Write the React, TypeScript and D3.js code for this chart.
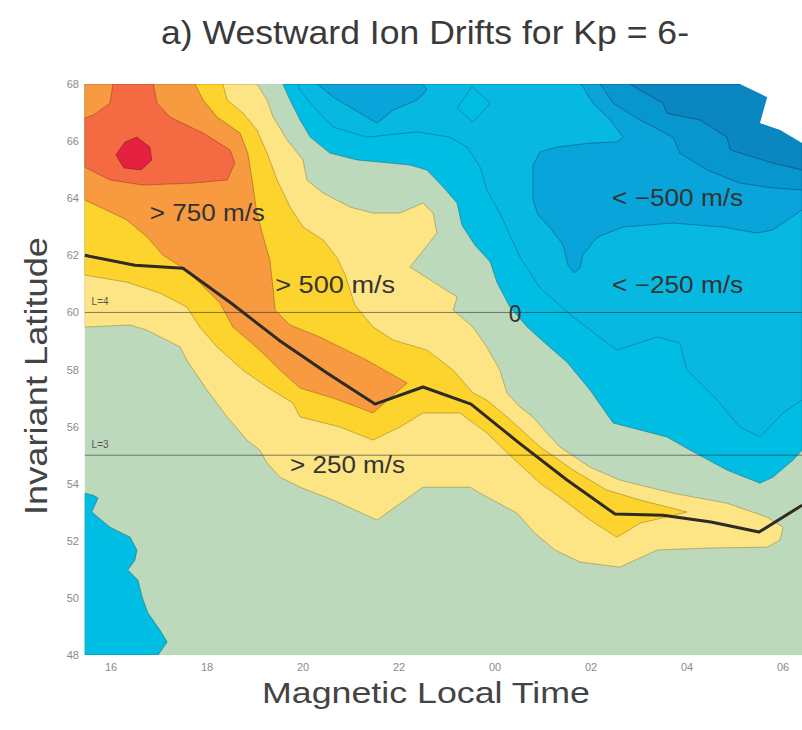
import { useEffect, useRef } from 'react';
import * as d3 from 'd3';

type Pt = [number, number]; // [MLT in hours (00 = 24, 02 = 26 ...), invariant latitude]

const mltTicks = [16, 18, 20, 22, 24, 26, 28, 30];
const latTicks = [48, 50, 52, 54, 56, 58, 60, 62, 64, 66, 68];

// westward drift contours
const above250: Pt[] = [
  [15.45, 68], [19.04, 68], [19.25, 67.44], [19.38, 66.84], [19.67, 66.04], [20.0, 65.34],
  [20.08, 64.64], [20.42, 64.18], [20.98, 63.69], [21.46, 63.48], [22.02, 63.48], [22.5, 63.83],
  [22.71, 63.48], [22.79, 62.78], [22.23, 61.59], [23.21, 60.54], [23.13, 60.08], [23.54, 59.49],
  [23.83, 58.79], [24.1, 57.98], [24.25, 57.18], [24.52, 56.69], [24.79, 56.34], [25.08, 55.78],
  [25.35, 55.29], [25.98, 54.58], [26.6, 54.13], [27.71, 53.67], [28.83, 53.32], [29.67, 52.83],
  [30.0, 52.48], [29.94, 52.03], [29.67, 51.78], [28.42, 51.75], [27.38, 51.68], [26.6, 51.08],
  [25.77, 51.26], [25.25, 51.68], [24.83, 52.27], [24.46, 52.97], [23.69, 53.67], [23.48, 53.88],
  [22.5, 53.88], [21.54, 52.73], [20.63, 53.43], [19.94, 53.88], [19.52, 54.23], [19.25, 54.73],
  [19.1, 55.18], [18.83, 55.53], [18.42, 56.34], [18.0, 57.28], [17.58, 58.33], [17.44, 58.79],
  [16.75, 59.38], [16.4, 59.56], [15.45, 59.49],
];

const above500: Pt[] = [
  [15.45, 68], [18.33, 68], [18.42, 67.44], [18.75, 66.98], [19.04, 66.39], [19.25, 65.58],
  [19.46, 64.64], [19.73, 63.69], [20.0, 62.99], [20.42, 62.54], [20.71, 61.91], [20.88, 61.31],
  [21.08, 60.26], [21.46, 59.49], [21.88, 59.03], [22.58, 58.68], [23.13, 57.98], [23.54, 57.18],
  [23.83, 56.93], [24.25, 56.34], [24.94, 55.29], [25.63, 54.48], [26.33, 53.78], [27.02, 53.43],
  [28.0, 53.01], [27.02, 52.62], [26.54, 52.13], [25.98, 52.73], [25.35, 53.53], [24.94, 54.02],
  [24.31, 55.0], [23.83, 55.78], [23.27, 56.48], [22.5, 56.48], [22.02, 55.99], [21.46, 55.53],
  [20.77, 55.99], [19.94, 56.34], [19.79, 56.83], [19.25, 57.39], [18.75, 57.98], [18.21, 58.79],
  [17.85, 59.49], [17.58, 60.19], [17.02, 60.68], [16.33, 61.06], [15.45, 61.31],
];

const above750: Pt[] = [
  [15.45, 68], [17.75, 68], [17.92, 67.44], [18.21, 66.84], [18.69, 66.28], [18.85, 65.58],
  [18.94, 64.64], [19.04, 63.48], [19.15, 62.78], [19.31, 61.84], [19.38, 60.78], [19.42, 60.08],
  [19.73, 59.56], [20.35, 59.14], [21.33, 58.33], [22.17, 57.53], [21.46, 56.48], [20.63, 57.0],
  [19.94, 57.35], [19.52, 57.98], [19.1, 58.68], [18.54, 59.49], [18.27, 60.33], [17.85, 61.03],
  [17.5, 61.56], [17.08, 62.01], [16.75, 62.64], [16.33, 63.24], [15.77, 63.69], [15.45, 63.94],
];

const above1000: Pt[] = [
  [16.04, 68], [15.98, 67.33], [15.63, 66.91], [15.45, 66.81], [15.45, 65.09], [15.98, 64.64],
  [16.67, 64.46], [17.71, 64.53], [18.42, 64.64], [18.58, 65.23], [18.48, 65.69], [17.92, 66.28],
  [17.23, 66.84], [16.96, 67.33], [16.88, 68],
];

const above1250: Pt[] = [
  [16.29, 65.97], [16.54, 66.14], [16.81, 65.79], [16.85, 65.34], [16.63, 64.99], [16.27, 65.06],
  [16.1, 65.51],
];

const below0: Pt[] = [
  [19.58, 68], [19.73, 67.44], [19.94, 66.74], [20.15, 66.14], [20.56, 65.58], [21.13, 65.34],
  [21.81, 65.23], [22.23, 65.16], [22.58, 64.99], [22.92, 64.39], [23.21, 63.83], [23.31, 63.06],
  [23.58, 62.36], [23.9, 61.77], [24.04, 61.06], [24.31, 60.19], [24.67, 59.49], [25.04, 58.93],
  [25.5, 58.26], [25.98, 57.28], [26.46, 56.13], [27.58, 55.64], [28.06, 55.18], [28.83, 54.48],
  [29.52, 54.02], [29.79, 54.23], [30.21, 54.83], [30.4, 55.18], [30.4, 68],
];

const below0Dusk: Pt[] = [
  [15.45, 53.67], [15.63, 53.6], [15.73, 53.5], [15.6, 53.01], [15.98, 52.48], [16.4, 52.13],
  [16.54, 51.68], [16.5, 51.33], [16.35, 50.98], [16.56, 50.63], [16.65, 50.03], [16.77, 49.47],
  [17.02, 48.88], [17.17, 48.46], [16.98, 48], [15.45, 48],
];

const below250: Pt[] = [
  [19.9, 68], [19.94, 67.79], [20.15, 67.33], [20.63, 66.49], [21.33, 66.14], [22.38, 66.32],
  [23.06, 66.14], [23.42, 65.79], [23.69, 65.09], [23.83, 64.29], [24.1, 63.48], [24.52, 61.94],
  [24.94, 60.85], [25.63, 59.84], [26.54, 58.68], [27.38, 59.14], [27.85, 58.93], [28.0, 57.98],
  [28.63, 56.93], [29.1, 55.99], [29.52, 55.64], [30.0, 56.48], [30.4, 56.93], [30.4, 68],
];

const below250Hole: Pt[] = [
  [23.52, 67.9], [23.9, 67.33], [23.54, 66.67], [23.21, 67.16],
];

const below500Pre: Pt[] = [
  [20.29, 68], [20.63, 67.54], [21.33, 66.84], [21.54, 66.63], [21.88, 67.09], [22.38, 67.44],
  [22.58, 67.79], [22.5, 68],
];

const below500Post: Pt[] = [
  [25.77, 68], [25.83, 67.9], [26.04, 67.33], [26.4, 66.74], [26.67, 66.14], [26.54, 65.97],
  [25.98, 65.93], [25.29, 65.79], [24.94, 65.62], [24.79, 65.16], [24.79, 63.94], [24.9, 63.41],
  [25.15, 62.96], [25.42, 62.36], [25.52, 61.66], [25.65, 61.38], [25.77, 61.56], [25.83, 62.01],
  [26.13, 62.64], [26.67, 62.99], [27.71, 63.13], [28.75, 62.99], [29.46, 62.78], [29.79, 62.89],
  [30.4, 63.59], [30.4, 68],
];

const below750: Pt[] = [
  [26.19, 68], [26.46, 67.33], [27.02, 66.74], [27.71, 66.14], [27.85, 65.58], [28.42, 64.99],
  [29.1, 64.53], [29.79, 64.36], [30.4, 64.29], [30.4, 68],
];

const below1000: Pt[] = [
  [26.81, 68], [27.02, 67.79], [27.5, 67.33], [27.58, 66.98], [28.27, 66.74], [28.83, 66.14],
  [28.9, 65.69], [29.79, 65.23], [30.4, 64.99], [30.4, 68],
];

const noData: Pt[] = [
  [29.1, 68], [29.67, 67.54], [29.52, 66.63], [29.94, 66.39], [30.4, 65.93], [30.4, 68],
];

// dark curve through the peak flows
const peakMlt = [15.45, 16.5, 17.5, 18.5, 19.5, 20.5, 21.5, 22.5, 23.5, 24.5, 25.5, 26.5, 27.5, 28.5, 29.5, 30.4];
const peakLat = [62.0, 61.65, 61.55, 60.33, 59.03, 57.88, 56.79, 57.39, 56.79, 55.43, 54.13, 52.94, 52.9, 52.66, 52.31, 53.25];

const lShellLat = [60, 55];
const lShellName = ['L=4', 'L=3'];

const regionLabels = ['> 750 m/s', '> 500 m/s', '> 250 m/s', '< \u2212500 m/s', '< \u2212250 m/s', '0'];
const labelMlt = [16.81, 19.42, 19.73, 26.44, 26.44, 24.42];
const labelLat = [63.2, 60.68, 54.38, 63.73, 60.68, 59.66];

const FONT = "'Liberation Sans', Arial, Helvetica, sans-serif";

export default function App() {
  const svgRef = useRef<SVGSVGElement>(null);

  useEffect(() => {
    const svg = d3.select(svgRef.current);
    svg.selectAll('*').remove();

    const x = d3.scaleLinear().domain([15.45, 30.4]).range([84.6, 802.2]);
    const y = d3.scaleLinear().domain([48, 68]).range([655.1, 84]);

    svg.append('defs')
      .append('clipPath')
      .attr('id', 'plot-clip')
      .append('rect')
      .attr('x', x(15.45))
      .attr('y', y(68))
      .attr('width', x(30.4) - x(15.45))
      .attr('height', y(48) - y(68));

    const plot = svg.append('g').attr('clip-path', 'url(#plot-clip)');

    // 0 .. 250 m/s background
    plot.append('rect')
      .attr('x', x(15.45))
      .attr('y', y(68))
      .attr('width', x(30.4) - x(15.45))
      .attr('height', y(48) - y(68))
      .attr('fill', '#bdd9bb');

    const shape = d3.line<Pt>()
      .x(d => x(d[0]))
      .y(d => y(d[1]))
      .curve(d3.curveLinearClosed);

    const layers: { shapes: Pt[][]; fill: string; edge: string }[] = [
      { shapes: [above250], fill: '#fde484', edge: 'rgba(120,100,40,0.45)' },
      { shapes: [above500], fill: '#fdd42e', edge: 'rgba(120,90,20,0.45)' },
      { shapes: [above750], fill: '#f79a40', edge: 'rgba(120,60,20,0.45)' },
      { shapes: [above1000], fill: '#f36a43', edge: 'rgba(120,40,20,0.45)' },
      { shapes: [above1250], fill: '#e4213e', edge: 'rgba(110,20,20,0.5)' },
      { shapes: [below0, below0Dusk], fill: '#00bee3', edge: 'rgba(30,80,90,0.5)' },
      { shapes: [below250], fill: '#07b9e1', edge: 'rgba(20,70,100,0.45)' },
      { shapes: [below250Hole], fill: '#00bee3', edge: 'rgba(20,70,100,0.45)' },
      { shapes: [below500Pre, below500Post], fill: '#08a4da', edge: 'rgba(20,60,100,0.5)' },
      { shapes: [below750], fill: '#0896cf', edge: 'rgba(20,50,90,0.5)' },
      { shapes: [below1000], fill: '#0a86c1', edge: 'rgba(20,40,80,0.5)' },
      { shapes: [noData], fill: '#ffffff', edge: 'none' },
    ];

    layers.forEach(layer => {
      plot.selectAll(null)
        .data(layer.shapes)
        .join('path')
        .attr('d', d => shape(d))
        .attr('fill', layer.fill)
        .attr('stroke', layer.edge)
        .attr('stroke-width', 0.9)
        .attr('stroke-linejoin', 'round');
    });

    // L-shell reference lines
    plot.selectAll(null)
      .data(lShellLat)
      .join('line')
      .attr('x1', x(15.45))
      .attr('x2', x(30.4))
      .attr('y1', d => y(d))
      .attr('y2', d => y(d))
      .attr('stroke', 'rgba(50,50,50,0.6)')
      .attr('stroke-width', 1);

    plot.selectAll(null)
      .data(lShellLat)
      .join('text')
      .attr('x', x(15.45) + 7)
      .attr('y', d => y(d) - 7)
      .attr('font-family', FONT)
      .attr('font-size', 10)
      .attr('fill', '#555')
      .text((d, i) => lShellName[i]);

    // peak curve
    const peak = d3.line<number>()
      .x(d => x(d))
      .y((d, i) => y(peakLat[i]));
    plot.append('path')
      .attr('d', peak(peakMlt))
      .attr('fill', 'none')
      .attr('stroke', '#2e2a24')
      .attr('stroke-width', 3)
      .attr('stroke-linejoin', 'round');

    // region labels
    const labelWidth = [115, 120, 115, 131, 131, 0];
    plot.selectAll(null)
      .data(regionLabels)
      .join('text')
      .attr('x', (d, i) => x(labelMlt[i]))
      .attr('y', (d, i) => y(labelLat[i]))
      .attr('text-anchor', (d, i) => (labelWidth[i] ? 'start' : 'middle'))
      .attr('font-family', FONT)
      .attr('font-size', 23)
      .attr('fill', '#333')
      .each(function (d, i) {
        if (labelWidth[i]) {
          d3.select(this).attr('textLength', labelWidth[i]).attr('lengthAdjust', 'spacingAndGlyphs');
        }
      })
      .text(d => d);

    // tick labels
    svg.selectAll(null)
      .data(latTicks)
      .join('text')
      .attr('x', 79)
      .attr('y', d => y(d) + 4)
      .attr('text-anchor', 'end')
      .attr('font-family', FONT)
      .attr('font-size', 11)
      .attr('fill', '#8a8a8a')
      .text(d => d);

    svg.selectAll(null)
      .data(mltTicks)
      .join('text')
      .attr('x', d => x(d))
      .attr('y', 671)
      .attr('text-anchor', 'middle')
      .attr('font-family', FONT)
      .attr('font-size', 11)
      .attr('fill', '#8a8a8a')
      .text(d => String(d % 24).padStart(2, '0'));

    // axis titles
    svg.append('text')
      .attr('x', 426)
      .attr('y', 703)
      .attr('text-anchor', 'middle')
      .attr('font-family', FONT)
      .attr('font-size', 29)
      .attr('fill', '#444')
      .attr('textLength', 328)
      .attr('lengthAdjust', 'spacingAndGlyphs')
      .text('Magnetic Local Time');

    svg.append('text')
      .attr('transform', `translate(47,376) rotate(-90)`)
      .attr('text-anchor', 'middle')
      .attr('font-family', FONT)
      .attr('font-size', 32)
      .attr('fill', '#444')
      .attr('textLength', 278)
      .attr('lengthAdjust', 'spacingAndGlyphs')
      .text('Invariant Latitude');

    // title
    svg.append('text')
      .attr('x', 425)
      .attr('y', 44)
      .attr('text-anchor', 'middle')
      .attr('font-family', FONT)
      .attr('font-size', 33)
      .attr('fill', '#3a3a3a')
      .attr('textLength', 528)
      .attr('lengthAdjust', 'spacingAndGlyphs')
      .text('a) Westward Ion Drifts for Kp = 6-');
  }, []);

  return (
    <svg
      ref={svgRef}
      width={802}
      height={730}
      style={{ position: 'absolute', left: 0, top: 0, background: '#fff' }}
    />
  );
}
